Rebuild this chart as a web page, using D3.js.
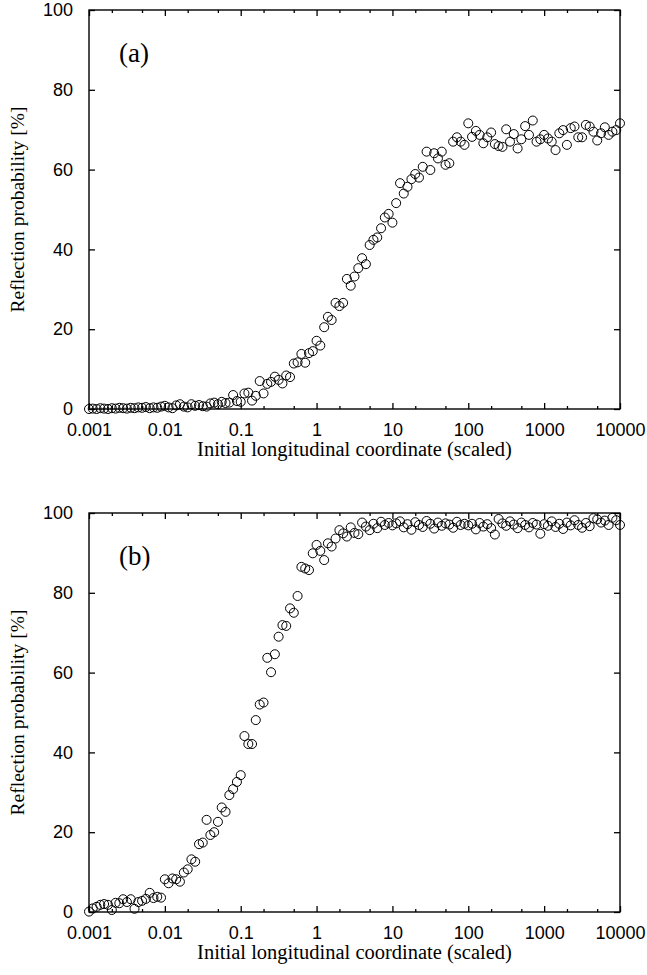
<!DOCTYPE html>
<html>
<head>
<meta charset="utf-8">
<script src="https://cdn.jsdelivr.net/npm/d3@7"></script>
<style>
  body { margin: 0; background: #fff; }
  svg { font-family: "Liberation Serif", "Times New Roman", serif; }
</style>
</head>
<body>
<div id="chart"></div>
<script>
// initial longitudinal coordinate (scaled), shared by both panels
const xGrid = [
    0.001, 0.00112, 0.00126, 0.00141, 0.00158, 0.00178, 0.002, 0.00224, 0.00251, 0.00282,
    0.00316, 0.00355, 0.00398, 0.00447, 0.00501, 0.00562, 0.00631, 0.00708, 0.00794, 0.00891,
    0.01, 0.0112, 0.0126, 0.0141, 0.0158, 0.0178, 0.02, 0.0224, 0.0251, 0.0282,
    0.0316, 0.0355, 0.0398, 0.0447, 0.0501, 0.0562, 0.0631, 0.0708, 0.0794, 0.0891,
    0.1, 0.112, 0.126, 0.141, 0.158, 0.178, 0.2, 0.224, 0.251, 0.282,
    0.316, 0.355, 0.398, 0.447, 0.501, 0.562, 0.631, 0.708, 0.794, 0.891,
    1, 1.12, 1.26, 1.41, 1.58, 1.78, 2, 2.24, 2.51, 2.82,
    3.16, 3.55, 3.98, 4.47, 5.01, 5.62, 6.31, 7.08, 7.94, 8.91,
    10, 11.2, 12.6, 14.1, 15.8, 17.8, 20, 22.4, 25.1, 28.2,
    31.6, 35.5, 39.8, 44.7, 50.1, 56.2, 63.1, 70.8, 79.4, 89.1,
    100, 112, 126, 141, 158, 178, 200, 224, 251, 282,
    316, 355, 398, 447, 501, 562, 631, 708, 794, 891,
    1000, 1122, 1259, 1413, 1585, 1778, 1995, 2239, 2512, 2818,
    3162, 3548, 3981, 4467, 5012, 5623, 6310, 7079, 7943, 8913,
    10000
];

// reflection probability [%], panel (a)
const reflectA = [
    0.0, 0.1, 0.0, 0.2, 0.1, 0.0, 0.2, 0.1, 0.3, 0.2, 0.1, 0.3, 0.2, 0.4, 0.3, 0.5, 0.2, 0.4, 0.3, 0.6,
    0.8, 0.4, 0.2, 0.9, 1.2, 0.6, 0.4, 1.2, 0.8, 1.0, 0.7, 0.6, 1.4, 1.6, 1.2, 1.8, 1.5, 1.6, 3.5, 2.0,
    1.8, 3.9, 4.1, 2.1, 3.3, 7.0, 3.9, 6.3, 6.8, 8.1, 7.3, 6.4, 8.4, 8.0, 11.4, 11.7, 13.8, 11.6, 14.0, 14.5,
    17.1, 15.9, 20.5, 23.1, 22.3, 26.6, 25.8, 26.6, 32.6, 30.9, 33.2, 35.3, 37.8, 36.3, 41.1, 42.4, 43.0, 45.3, 48.0, 48.9,
    46.7, 51.6, 56.6, 54.0, 55.7, 57.6, 58.9, 58.0, 60.7, 64.5, 59.9, 64.1, 62.8, 64.5, 61.2, 61.6, 67.0, 68.1, 67.0, 66.2,
    71.6, 68.2, 69.7, 68.7, 66.6, 68.1, 69.3, 66.4, 65.9, 65.7, 70.1, 67.0, 68.9, 65.3, 67.6, 70.9, 68.7, 72.3, 67.0, 67.6,
    68.7, 67.8, 67.0, 64.9, 69.1, 69.9, 66.2, 70.4, 70.8, 68.1, 68.1, 71.2, 70.8, 69.5, 67.3, 69.1, 70.6, 68.7, 69.5, 69.9,
    71.6
];

// reflection probability [%], panel (b)
const reflectB = [
    0.1, 0.9, 1.3, 1.8, 2.0, 1.8, 0.5, 2.3, 2.2, 3.2, 2.5, 3.2, 0.8, 2.5, 2.8, 3.3, 4.8, 3.5, 3.8, 3.6,
    8.2, 7.2, 8.4, 8.2, 7.6, 9.9, 10.7, 13.2, 12.6, 17.0, 17.4, 23.1, 19.3, 20.0, 22.6, 26.2, 25.1, 29.3, 30.8, 32.6,
    34.3, 44.1, 42.1, 42.1, 48.1, 52.0, 52.5, 63.7, 60.1, 64.6, 69.0, 71.9, 71.7, 76.1, 75.0, 79.2, 86.5, 86.1, 85.7, 89.9,
    92.0, 90.5, 88.2, 92.4, 91.6, 93.6, 95.7, 94.9, 94.1, 96.4, 95.0, 94.7, 97.6, 96.6, 95.7, 97.3, 96.2, 97.8, 97.0, 97.5,
    96.9, 97.4, 97.9, 96.4, 97.2, 95.8, 97.7, 97.0, 96.5, 98.0, 97.3, 96.1, 97.6, 96.8, 97.4, 97.1, 96.3, 97.8, 97.0, 97.3,
    96.9, 97.3, 95.9, 97.5, 96.6, 97.2, 96.2, 94.6, 98.5, 97.4, 96.8, 97.9, 97.1, 96.2, 97.6, 97.0, 96.4, 97.5, 97.1, 94.8,
    97.2, 96.8, 97.9, 96.5, 97.3, 96.0, 97.6, 96.9, 98.2, 97.0, 96.3, 97.5, 96.7, 98.7, 98.4, 97.6, 98.1, 97.0, 98.8, 98.2,
    97.0
];

const xTickValues = [0.001, 0.01, 0.1, 1, 10, 100, 1000, 10000];
const xTickLabels = ["0.001", "0.01", "0.1", "1", "10", "100", "1000", "10000"];
const xMinorTicks = [0.002, 0.005, 0.02, 0.05, 0.2, 0.5, 2, 5, 20, 50, 200, 500, 2000, 5000];
const yTickValues = [0, 20, 40, 60, 80, 100];
const panelLabels = ["(a)", "(b)"];
const xTitle = "Initial longitudinal coordinate (scaled)";
const yTitle = "Reflection probability [%]";

const width = 647, height = 975;
const plotLeft = 89, plotWidth = 531, plotHeight = 399;
const panelTops = [10, 513];

const svg = d3.select("#chart").append("svg")
    .attr("width", width)
    .attr("height", height);

const x = d3.scaleLog()
    .domain([0.001, 10000])
    .range([0, plotWidth]);

const y = d3.scaleLinear()
    .domain([0, 100])
    .range([plotHeight, 0]);

function tickStyle(g) {
    g.select(".domain").remove();
    g.selectAll("line").attr("stroke", "#000").attr("stroke-width", 1.3);
    g.selectAll("text").attr("fill", "#000").style("font-size", "18px");
}

function drawPanel(values, label, top) {
    const g = svg.append("g").attr("transform", `translate(${plotLeft},${top})`);

    // bottom axis with labels, ticks pointing inward
    g.append("g")
        .attr("transform", `translate(0,${plotHeight})`)
        .call(d3.axisBottom(x).tickValues(xTickValues).tickSize(-6).tickPadding(14)
            .tickFormat((d, i) => xTickLabels[i]))
        .call(tickStyle);
    g.append("g")
        .attr("transform", `translate(0,${plotHeight})`)
        .call(d3.axisBottom(x).tickValues(xMinorTicks).tickSize(-3).tickFormat(""))
        .call(tickStyle);

    // top axis, ticks only
    g.append("g")
        .call(d3.axisTop(x).tickValues(xTickValues).tickSize(-6).tickFormat(""))
        .call(tickStyle);
    g.append("g")
        .call(d3.axisTop(x).tickValues(xMinorTicks).tickSize(-3).tickFormat(""))
        .call(tickStyle);

    // left axis with labels
    g.append("g")
        .call(d3.axisLeft(y).tickValues(yTickValues).tickSize(-6).tickPadding(16).tickFormat(d3.format("d")))
        .call(tickStyle);

    // right axis, ticks only
    g.append("g")
        .attr("transform", `translate(${plotWidth},0)`)
        .call(d3.axisRight(y).tickValues(yTickValues).tickSize(-6).tickFormat(""))
        .call(tickStyle);

    // frame
    g.append("rect")
        .attr("width", plotWidth)
        .attr("height", plotHeight)
        .attr("fill", "none")
        .attr("stroke", "#000")
        .attr("stroke-width", 1.4);

    // data points (open circles)
    g.selectAll(".pt")
        .data(values.map((v, i) => ({ x: xGrid[i], y: v })))
        .enter()
        .append("circle")
        .attr("class", "pt")
        .attr("cx", d => x(d.x))
        .attr("cy", d => y(d.y))
        .attr("r", 4.5)
        .attr("fill", "none")
        .attr("stroke", "#000")
        .attr("stroke-width", 1);

    // panel label
    g.append("text")
        .attr("x", 30)
        .attr("y", 52)
        .style("font-size", "27px")
        .text(label);

    // axis titles
    g.append("text")
        .attr("x", plotWidth / 2)
        .attr("y", plotHeight + 47)
        .attr("text-anchor", "middle")
        .style("font-size", "20.5px")
        .text(xTitle);

    g.append("text")
        .attr("transform", `translate(${-plotLeft + 24},${plotHeight / 2}) rotate(-90)`)
        .attr("text-anchor", "middle")
        .style("font-size", "19.5px")
        .text(yTitle);
}

drawPanel(reflectA, panelLabels[0], panelTops[0]);
drawPanel(reflectB, panelLabels[1], panelTops[1]);
</script>
</body>
</html>
